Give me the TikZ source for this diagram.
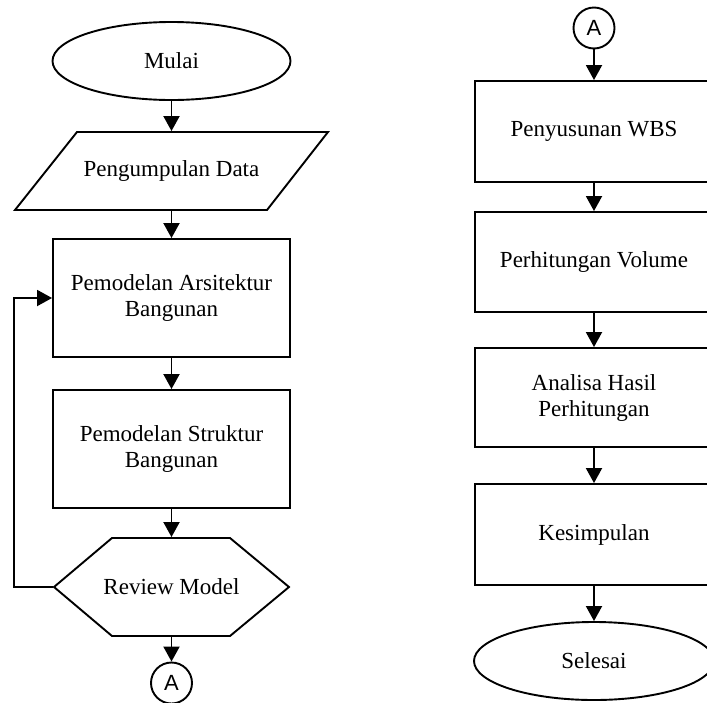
\documentclass[tikz,border=0pt]{standalone}
\usepackage{fontspec}
\setmainfont{Liberation Serif}
\newfontfamily\connfont{Liberation Sans}
\usetikzlibrary{shapes.geometric,arrows.meta}
\begin{document}
\begin{tikzpicture}[x=1pt,y=-1pt,line width=1.9pt,
  txt/.style={font=\fontsize{23}{26}\selectfont,align=center,inner sep=0pt},
  term/.style={txt,ellipse,draw,minimum width=238pt,minimum height=78pt},
  proc/.style={txt,rectangle,draw,minimum width=237pt},
  ghost/.style={txt,rectangle,draw=none},
  conn/.style={circle,draw,minimum size=41pt,inner sep=0pt,font=\connfont\fontsize{22}{24}\selectfont},
  arr/.style={-{Triangle[width=16pt,length=15pt]}}]
\useasboundingbox (0,0) rectangle (707,702);
\clip (0,0) rectangle (707,702);
% left column
\node[term] (mulai) at (171.5,61) {Mulai};
\node[ghost,minimum width=190pt,minimum height=78pt] (data) at (171.5,171) {Pengumpulan Data};
\draw (77,132) -- (328,132) -- (267,210) -- (15,210) -- cycle;
\node[proc,minimum height=118pt] (arsi) at (171.5,298) {Pemodelan Arsitektur\\Bangunan};
\node[proc,minimum height=118pt] (stru) at (171.5,449) {Pemodelan Struktur\\Bangunan};
\node[ghost,minimum width=235pt,minimum height=98pt] (review) at (171.5,587) {Review Model};
\draw (54,587) -- (112,538) -- (230,538) -- (289,587) -- (230,636) -- (112,636) -- cycle;
\node[conn] (a1) at (171.5,683) {A};
\coordinate (loop) at (14,587);
\draw[arr] (mulai.south) -- (data.north);
\draw[arr] (data.south) -- (arsi.north);
\draw[arr] (arsi.south) -- (stru.north);
\draw[arr] (stru.south) -- (review.north);
\draw[arr] (review.south) -- (a1.north);
\draw[arr] (review.west) -- (loop) |- (arsi.west);
% right column
\node[conn] (a2) at (594,28) {A};
\node[proc,minimum width=238pt,minimum height=101pt] (wbs) at (594,131.5) {Penyusunan WBS};
\node[proc,minimum width=238pt,minimum height=100pt] (vol) at (594,262) {Perhitungan Volume};
\node[proc,minimum width=238pt,minimum height=99pt] (anal) at (594,397.5) {Analisa Hasil\\Perhitungan};
\node[proc,minimum width=238pt,minimum height=101pt] (kes) at (594,534.5) {Kesimpulan};
\node[term,minimum width=240pt] (selesai) at (594,661) {Selesai};
\draw[arr] (a2.south) -- (wbs.north);
\draw[arr] (wbs.south) -- (vol.north);
\draw[arr] (vol.south) -- (anal.north);
\draw[arr] (anal.south) -- (kes.north);
\draw[arr] (kes.south) -- (selesai.north);
\end{tikzpicture}
\end{document}
